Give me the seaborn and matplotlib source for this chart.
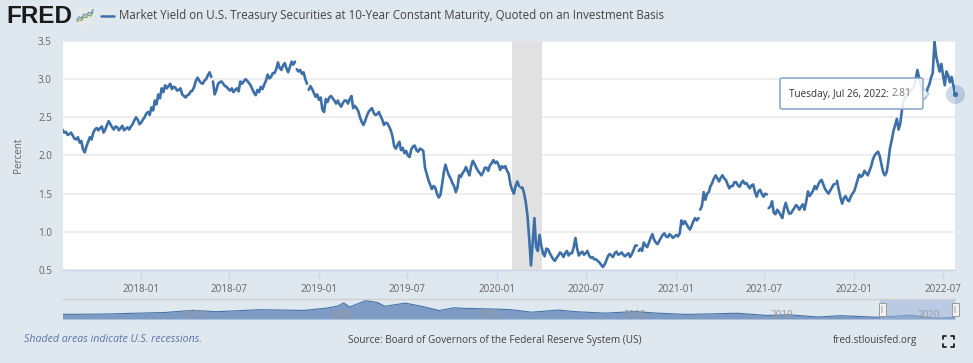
import matplotlib
matplotlib.use("Agg")
import matplotlib.pyplot as plt
import matplotlib.dates as mdates
from matplotlib.font_manager import FontProperties
from matplotlib.patches import FancyBboxPatch, Rectangle, Polygon
from matplotlib.lines import Line2D
from matplotlib.transforms import IdentityTransform
import seaborn as sns
import pandas as pd
import numpy as np

sns.set_theme(style="white")
plt.rcParams["font.family"] = ["Open Sans", "DejaVu Sans"]

# readings every half week, last one is 2022-07-26
yields = [
    2.34, 2.30, 2.31, 2.27, 2.28, 2.30, 2.26, 2.22, 2.21, 2.24, 2.17, 2.19, 2.08, 2.04, 2.12, 2.18, 2.24, 2.21, 2.30, 2.34,
    2.36, 2.33, 2.36, 2.38, 2.30, 2.34, 2.40, 2.45, 2.41, 2.37, 2.34, 2.38, 2.37, 2.33, 2.36, 2.39, 2.33, 2.35, 2.37, 2.34,
    2.38, 2.41, 2.46, 2.50, 2.47, 2.41, 2.43, 2.47, 2.50, 2.55, 2.57, 2.53, 2.63, 2.59, 2.72, 2.67, 2.80, 2.75, 2.88, 2.83,
    2.92, 2.88, 2.91, 2.94, 2.87, 2.90, 2.89, 2.85, 2.86, 2.88, 2.80, 2.78, 2.76, 2.79, 2.80, 2.84, 2.85, 2.90, 2.98, 3.02,
    2.98, 2.95, 2.94, 2.98, 3.00, 3.05, 3.09, 3.03, 2.97, 2.80, 2.86, 2.94, 2.96, 2.97, 2.94, 2.91, 2.90, 2.87, 2.85, 2.88,
    2.83, 2.86, 2.88, 2.84, 2.97, 2.94, 2.97, 3.00, 2.98, 2.95, 2.92, 2.87, 2.82, 2.79, 2.86, 2.83, 2.90, 2.87, 2.93, 2.98,
    3.06, 3.01, 3.03, 3.08, 3.08, 3.13, 3.22, 3.15, 3.12, 3.18, 3.21, 3.14, 3.09, 3.16, 3.23, 3.19, 3.23, 3.13, 3.10, 3.12,
    3.07, 3.09, 3.00, 2.94, 2.86, 2.91, 2.87, 2.82, 2.77, 2.80, 2.73, 2.76, 2.60, 2.57, 2.74, 2.70, 2.76, 2.78, 2.75, 2.72,
    2.68, 2.72, 2.67, 2.64, 2.69, 2.72, 2.72, 2.68, 2.74, 2.78, 2.62, 2.65, 2.62, 2.58, 2.50, 2.44, 2.40, 2.45, 2.52, 2.57,
    2.60, 2.62, 2.56, 2.53, 2.54, 2.57, 2.52, 2.47, 2.40, 2.43, 2.42, 2.38, 2.33, 2.25, 2.12, 2.09, 2.14, 2.18, 2.07, 2.10,
    2.03, 2.06, 2.00, 1.98, 2.08, 2.12, 2.13, 2.07, 2.05, 2.09, 2.08, 2.06, 1.84, 1.76, 1.68, 1.62, 1.56, 1.60, 1.58, 1.50,
    1.45, 1.48, 1.62, 1.78, 1.88, 1.80, 1.74, 1.70, 1.64, 1.60, 1.52, 1.58, 1.74, 1.72, 1.77, 1.80, 1.85, 1.79, 1.74, 1.86,
    1.93, 1.89, 1.84, 1.80, 1.77, 1.74, 1.78, 1.84, 1.84, 1.80, 1.87, 1.90, 1.94, 1.90, 1.92, 1.88, 1.81, 1.86, 1.84, 1.86,
    1.80, 1.76, 1.62, 1.55, 1.50, 1.60, 1.66, 1.60, 1.58, 1.58, 1.50, 1.38, 1.20, 0.90, 0.56, 0.86, 1.18, 0.80, 0.75, 0.96,
    0.82, 0.72, 0.68, 0.78, 0.77, 0.72, 0.68, 0.64, 0.62, 0.66, 0.69, 0.73, 0.71, 0.67, 0.72, 0.75, 0.69, 0.72, 0.72, 0.80,
    0.92, 0.78, 0.69, 0.72, 0.74, 0.70, 0.72, 0.75, 0.69, 0.66, 0.67, 0.64, 0.64, 0.62, 0.60, 0.57, 0.54, 0.57, 0.62, 0.68,
    0.71, 0.69, 0.67, 0.72, 0.74, 0.70, 0.71, 0.73, 0.70, 0.68, 0.70, 0.72, 0.67, 0.71, 0.76, 0.82, 0.82, 0.75, 0.78, 0.75,
    0.86, 0.82, 0.80, 0.86, 0.92, 0.97, 0.90, 0.86, 0.84, 0.88, 0.92, 0.96, 0.98, 0.94, 0.93, 0.97, 0.95, 0.92, 0.94, 0.96,
    0.94, 0.98, 1.15, 1.10, 1.14, 1.10, 1.06, 1.03, 1.08, 1.14, 1.18, 1.15, 1.18, 1.29, 1.34, 1.52, 1.42, 1.50, 1.52, 1.60,
    1.64, 1.70, 1.74, 1.70, 1.66, 1.71, 1.74, 1.70, 1.68, 1.62, 1.57, 1.60, 1.60, 1.65, 1.65, 1.61, 1.59, 1.64, 1.67, 1.63,
    1.64, 1.60, 1.57, 1.61, 1.62, 1.52, 1.46, 1.53, 1.55, 1.50, 1.46, 1.50, 1.49, 1.31, 1.33, 1.40, 1.25, 1.23, 1.29, 1.26,
    1.22, 1.18, 1.30, 1.38, 1.30, 1.24, 1.24, 1.28, 1.31, 1.35, 1.33, 1.29, 1.33, 1.36, 1.29, 1.40, 1.53, 1.47, 1.50, 1.54,
    1.60, 1.56, 1.62, 1.66, 1.68, 1.62, 1.56, 1.53, 1.50, 1.54, 1.58, 1.62, 1.63, 1.67, 1.55, 1.45, 1.37, 1.44, 1.47, 1.42,
    1.40, 1.46, 1.50, 1.53, 1.60, 1.68, 1.75, 1.72, 1.74, 1.80, 1.77, 1.74, 1.80, 1.86, 1.95, 2.00, 2.03, 2.05, 1.99, 1.88,
    1.78, 1.74, 1.78, 1.92, 2.10, 2.20, 2.32, 2.40, 2.48, 2.34, 2.42, 2.60, 2.72, 2.76, 2.79, 2.82, 2.85, 2.88, 2.90, 3.00,
    3.12, 3.02, 2.93, 2.85, 2.75, 2.78, 2.88, 2.93, 3.02, 3.08, 3.49, 3.30, 3.20, 3.10, 3.20, 3.05, 2.92, 3.10, 3.05, 2.96,
    3.03, 2.92, 2.81,
]
# holes in the line (missing days in the series)
gap_dates = ["2018-05-27", "2018-11-13", "2018-12-08", "2020-02-16",
             "2020-10-13", "2021-02-18", "2021-07-08", "2021-11-26"]
recession = ["2020-02-01", "2020-04-01"]
y_ticks = [0.5, 1.0, 1.5, 2.0, 2.5, 3.0, 3.5]
x_ticks = ["2018-01", "2018-07", "2019-01", "2019-07", "2020-01",
           "2020-07", "2021-01", "2021-07", "2022-01", "2022-07"]

# long history for the navigator strip
nav_years = [1961, 1962, 1964, 1966, 1968, 1970, 1971.5, 1973, 1974.5, 1976, 1977.5,
             1979, 1979.8, 1980.2, 1980.6, 1981.7, 1982.5, 1983, 1984.4, 1985.5,
             1986.7, 1987.7, 1988.5, 1990, 1991.5, 1993, 1994.8, 1996, 1998, 2000,
             2001.5, 2003.5, 2005, 2007, 2009, 2010.5, 2012.5, 2014, 2016.5, 2018.8,
             2020.5, 2021.8]
nav_values = [4.0, 4.0, 4.2, 4.9, 5.5, 7.4, 6.2, 7.0, 7.9, 7.6, 7.3,
              9.2, 11.0, 13.6, 10.2, 15.6, 14.0, 10.8, 13.5, 10.8,
              7.2, 9.5, 9.0, 8.6, 8.0, 5.8, 7.6, 6.2, 5.0, 6.3,
              5.0, 3.9, 4.3, 4.9, 3.0, 3.6, 1.7, 2.8, 1.5, 3.2,
              0.6, 1.4]
nav_labels = [1970, 1980, 1990, 2000, 2010, 2020]

# little icon next to the logo
icon_x = [0, 1, 2, 3, 4, 5, 6, 7]
icon_green = [1.0, 1.6, 1.3, 2.4, 2.1, 3.0, 2.6, 3.8]
icon_blue = [1.6, 2.4, 2.0, 3.2, 2.9, 3.7, 3.4, 4.6]

dates = pd.date_range(end="2022-07-26", periods=len(yields), freq="84h")
df = pd.DataFrame({"date": dates, "value": yields})
df["segment"] = np.searchsorted(pd.to_datetime(gap_dates), df["date"])

W, H = 973, 363
bg = "#dfe7ef"
blue = "#3d6fa8"


def box(x0, y0, x1, y1):
    # pixel box (top-left origin) -> figure fraction rect
    return [x0 / W, 1 - y1 / H, (x1 - x0) / W, (y1 - y0) / H]


def label(x, y, s, **kw):
    kw.setdefault("va", "center")
    return fig.text(x / W, 1 - y / H, s, **kw)


fig = plt.figure(figsize=(W / 100, H / 100), dpi=100, facecolor=bg)

# main plot
ax = fig.add_axes(box(63, 41, 955, 270), facecolor="white")
ax.axvspan(pd.Timestamp(recession[0]), pd.Timestamp(recession[1]), color="#e1e1e1", lw=0, zorder=1)
sns.lineplot(data=df, x="date", y="value", units="segment", estimator=None,
             color=blue, linewidth=1.9, ax=ax, zorder=3)
ax.set_xlim(pd.Timestamp("2017-07-26"), pd.Timestamp("2022-07-26"))
ax.set_ylim(0.5, 3.5)
ax.set_yticks(y_ticks)
ax.set_yticklabels([f"{v:.1f}" for v in y_ticks])
ax.set_xticks(pd.to_datetime(x_ticks))
ax.xaxis.set_major_formatter(mdates.DateFormatter("%Y-%m"))
ax.set_xlabel("")
ax.set_ylabel("")
ax.grid(axis="y", color="#eeeeee", lw=1.4, zorder=0)
ax.set_axisbelow(True)
for s in ["top", "right", "left"]:
    ax.spines[s].set_visible(False)
ax.spines["bottom"].set_color("#ccd6eb")
ax.spines["bottom"].set_linewidth(1.0)
ax.tick_params(axis="x", length=6, width=0.8, color="#ccd6eb", labelcolor="#666666", labelsize=7.1, pad=4, bottom=True)
ax.tick_params(axis="y", length=0, labelcolor="#666666", labelsize=7.1, pad=8)

# end of series marker
ax.scatter(df["date"].iloc[-1], df["value"].iloc[-1], s=190, color=blue, alpha=0.25, lw=0, clip_on=False, zorder=4)
ax.scatter(df["date"].iloc[-1], df["value"].iloc[-1], s=14, color=blue, lw=0, clip_on=False, zorder=5)

label(18, 155, "Percent", rotation=90, ha="center", color="#666666", fontsize=7.1)

# navigator
nav = fig.add_axes(box(63, 299, 955, 319), facecolor=bg)
nav_df = pd.DataFrame({"year": nav_years, "value": nav_values})
nav.fill_between(nav_df["year"], nav_df["value"], color="#7d9bc4", lw=0, zorder=1)
sns.lineplot(data=nav_df, x="year", y="value", color="#4572a7", linewidth=0.8, ax=nav, zorder=2)
nav.set_xlim(1961.1, 2021.8)
nav.set_ylim(0, 17)
nav.set_xticks([])
nav.set_yticks([])
nav.set_xlabel("")
nav.set_ylabel("")
for s in ["left", "right", "bottom"]:
    nav.spines[s].set_visible(False)
nav.spines["top"].set_color("#cfcfcf")
nav.spines["top"].set_linewidth(1.0)
for yr in nav_labels:
    nav.text(yr, 0.17, str(yr), transform=nav.get_xaxis_transform(), ha="center", va="center",
             color="#999999", fontsize=7.1, zorder=3)
nav.axvspan(2016.7, 2021.8, color="#9db3db", alpha=0.55, lw=0, zorder=2.5)

for px in (882, 955):
    fig.add_artist(Rectangle((px - 3.5, H - 316), 7, 13, transform=IdentityTransform(),
                             facecolor="#f2f2f2", edgecolor="#999999", lw=0.7, zorder=6))
    fig.add_artist(Rectangle((px - 1.2, H - 313), 2.4, 7, transform=IdentityTransform(),
                             facecolor="#c8c8c8", edgecolor="none", zorder=7))

# logo + legend
label(6, 16.5, "FRED", color="#1a1a1a",
      fontproperties=FontProperties(family="Liberation Sans", weight="bold", size=17.5))
ic = fig.add_axes(box(76, 8, 94, 25), facecolor="#e6e9ea")
sns.lineplot(x=icon_x, y=icon_green, color="#8aa65c", linewidth=0.9, ax=ic)
sns.lineplot(x=icon_x, y=icon_blue, color="#6f8fb8", linewidth=0.9, ax=ic)
ic.set_xticks([])
ic.set_yticks([])
ic.set_xlabel("")
ic.set_ylabel("")
ic.set_ylim(0, 5)
for s in ic.spines.values():
    s.set_visible(False)
fig.add_artist(Line2D([101 / W, 114 / W], [1 - 16 / H, 1 - 16 / H], color=blue, lw=1.8))
label(119, 16, "Market Yield on U.S. Treasury Securities at 10-Year Constant Maturity, Quoted on an Investment Basis",
      fontsize=8.3, color="#444444")

# tooltip
fig.add_artist(FancyBboxPatch((780, H - 109), 143, 31, boxstyle="round,pad=0,rounding_size=2",
                              transform=IdentityTransform(), facecolor="white", alpha=0.88,
                              edgecolor="#7f9fc8", lw=1.2, zorder=8))
fig.add_artist(Polygon([(923, H - 88), (929, H - 94), (923, H - 100)], closed=True, transform=IdentityTransform(),
                       facecolor="white", alpha=0.88, edgecolor="#9db3cf", lw=0.8, zorder=8))
label(789, 94, "Tuesday, Jul 26, 2022:", fontsize=7.2, color="#333333", zorder=9)
label(892, 94, "2.81", fontsize=7.2, color="#777777", zorder=9)

# footer
label(24, 340, "Shaded areas indicate U.S. recessions.", fontsize=7.7, style="italic", color="#5b74a8")
label(348, 340, "Source: Board of Governors of the Federal Reserve System (US)", fontsize=7.2, color="#444444")
label(833, 340, "fred.stlouisfed.org", fontsize=7.15, color="#444444")

# fullscreen icon corners
for cx, cy, dx, dy in [(943, 336, 1, 1), (954, 336, -1, 1), (943, 347, 1, -1), (954, 347, -1, -1)]:
    fig.add_artist(Line2D([(cx + 3 * dx) / W, cx / W, cx / W],
                          [1 - cy / H, 1 - cy / H, 1 - (cy + 3 * dy) / H], color="#111111", lw=1.2))

fig.savefig("out.png", dpi=100, facecolor=bg)
